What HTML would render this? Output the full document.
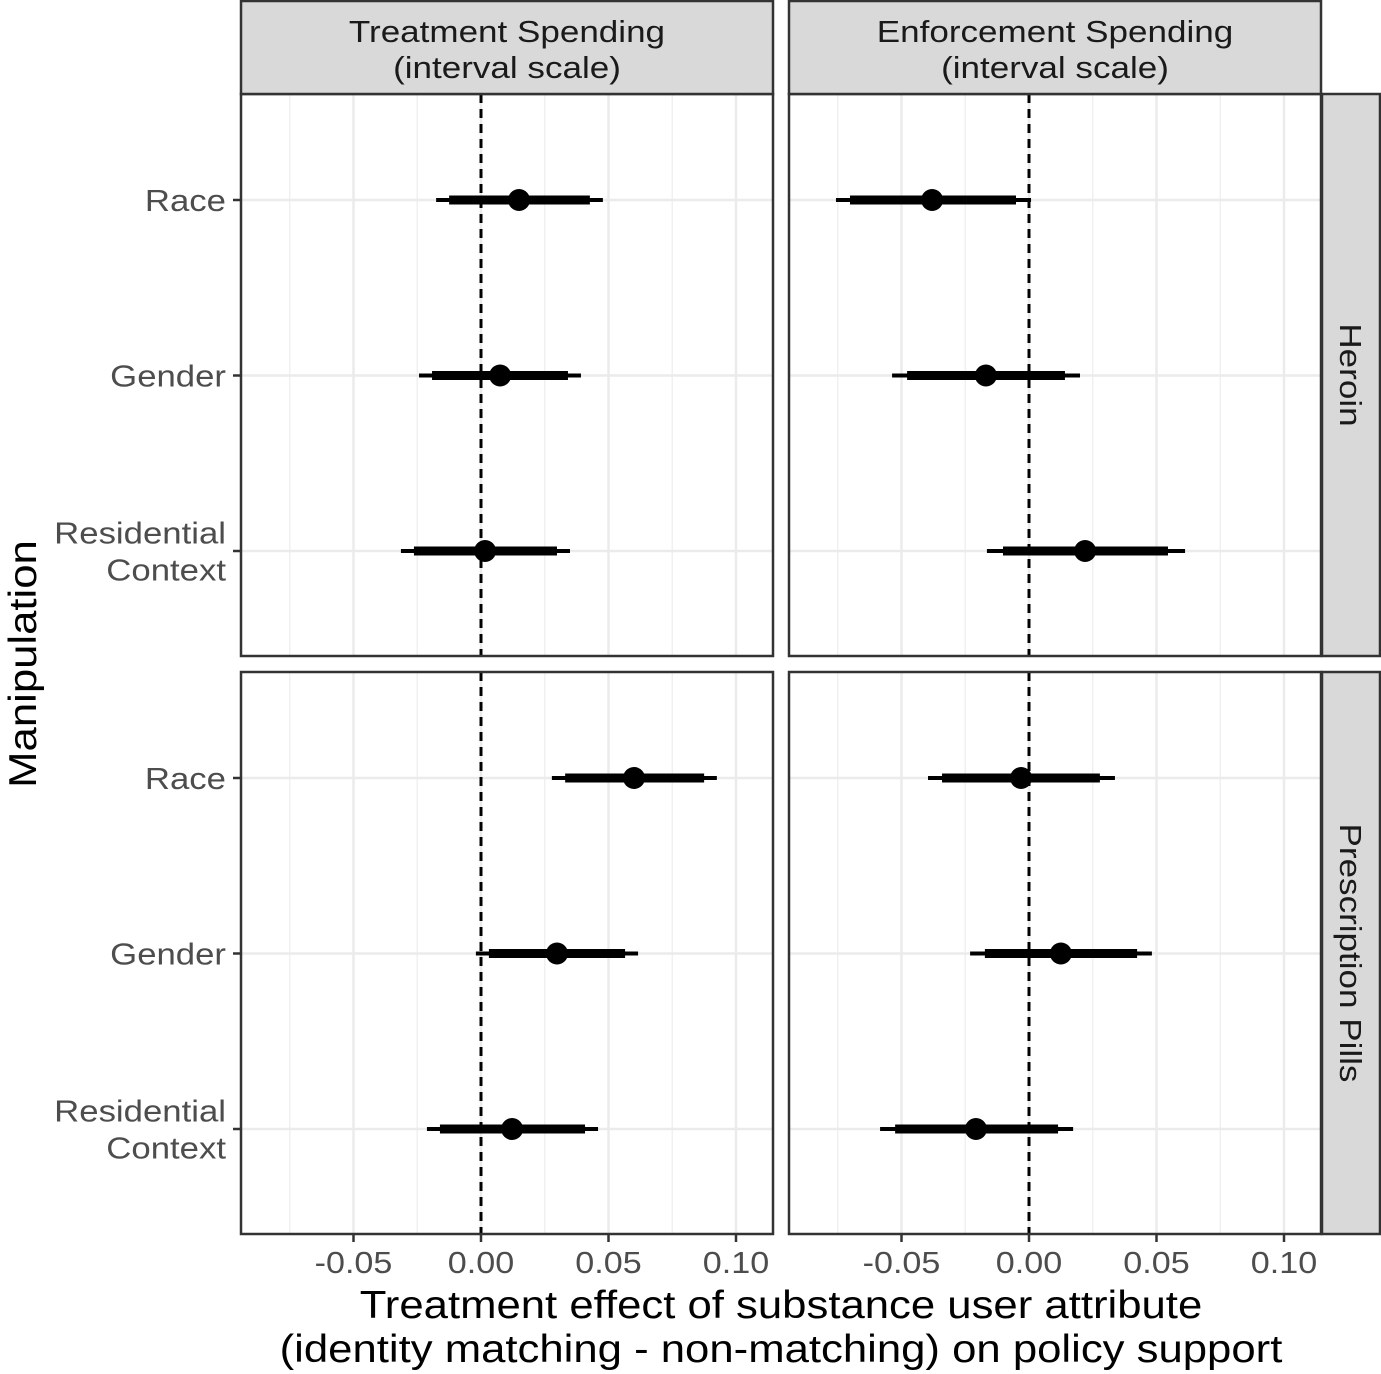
<!DOCTYPE html>
<html><head><meta charset="utf-8"><style>body{margin:0;background:#fff}svg{display:block;font-family:"Liberation Sans",Arial,sans-serif}</style></head>
<body>
<svg id="c" width="1381" height="1374" xmlns="http://www.w3.org/2000/svg"></svg>
<script>
const columns = ["Treatment Spending\n(interval scale)","Enforcement Spending\n(interval scale)"];
const rowsLbl = ["Heroin","Prescription Pills"];
const categories = ["Race","Gender","Residential\nContext"];
const xTicks = [-0.05,0,0.05,0.10];
const xTickLabels = ["-0.05","0.00","0.05","0.10"];
const xMinor = [-0.075,-0.025,0.025,0.075];
// [panelRow][panelCol][category]
const estimate = [[[0.0149,0.0075,0.0016],[-0.038,-0.0169,0.022]],[[0.060,0.0298,0.0122],[-0.0031,0.0125,-0.0208]]];
const innerLo = [[[-0.0125,-0.0192,-0.0263],[-0.0702,-0.0478,-0.0102]],[[0.033,0.0031,-0.0161],[-0.0341,-0.0173,-0.0525]]];
const innerHi = [[[0.0427,0.0341,0.0298],[-0.0051,0.0141,0.0545]],[[0.0875,0.0565,0.0408],[0.0278,0.0424,0.0114]]];
const outerLo = [[[-0.0176,-0.0243,-0.0314],[-0.0757,-0.0537,-0.0165]],[[0.0278,-0.002,-0.0212],[-0.0396,-0.0231,-0.0584]]];
const outerHi = [[[0.0478,0.0392,0.0349],[0.0008,0.02,0.0612]],[[0.0925,0.0616,0.0459],[0.0337,0.0482,0.0173]]];

const svg=document.getElementById('c');const NS="http://www.w3.org/2000/svg";
function mk(t,a,p){const e=document.createElementNS(NS,t);for(const k in a)e.setAttribute(k,a[k]);(p||svg).appendChild(e);return e;}
function txt(a,s,f){const e=mk('text',a);e.textContent=s;const L=e.getComputedTextLength();e.setAttribute('textLength',(L*(f||1.15)).toFixed(1));e.setAttribute('lengthAdjust','spacingAndGlyphs');return e;}
const PX=[241,789],PW=532,PY=[94,672],PH=562;
const x0=[481,1029],scale=2550;
function xs(c,v){return x0[c]+v*scale;}
function ys(r,i){return PY[r]+106+i*175.5;}
for(let r=0;r<2;r++)for(let c=0;c<2;c++){
  const g=mk('g',{});
  
  
  mk('rect',{x:PX[c],y:PY[r],width:PW,height:PH,fill:'#fff'},g);
  xMinor.forEach(v=>mk('line',{x1:xs(c,v),x2:xs(c,v),y1:PY[r],y2:PY[r]+PH,stroke:'#f0f0f0','stroke-width':1.5},g));
  xTicks.forEach(v=>mk('line',{x1:xs(c,v),x2:xs(c,v),y1:PY[r],y2:PY[r]+PH,stroke:'#ebebeb','stroke-width':2.5},g));
  categories.forEach((_,i)=>mk('line',{x1:PX[c],x2:PX[c]+PW,y1:ys(r,i),y2:ys(r,i),stroke:'#ebebeb','stroke-width':2.5},g));
  mk('line',{x1:xs(c,0),x2:xs(c,0),y1:PY[r],y2:PY[r]+PH,stroke:'#000','stroke-width':3,'stroke-dasharray':'9,6'},g);
  categories.forEach((_,i)=>{
    const y=ys(r,i);
    const a=mk('line',{x1:xs(c,outerLo[r][c][i]),x2:xs(c,outerHi[r][c][i]),y1:y,y2:y,stroke:'#000','stroke-width':4},g);
    
    const b=mk('line',{x1:xs(c,innerLo[r][c][i]),x2:xs(c,innerHi[r][c][i]),y1:y,y2:y,stroke:'#000','stroke-width':9},g);
    
    const p=mk('circle',{cx:xs(c,estimate[r][c][i]),cy:y,r:11,fill:'#000'},g);
    
  });
  mk('rect',{x:PX[c],y:PY[r],width:PW,height:PH,fill:'none',stroke:'#333','stroke-width':2.5},g);
}
columns.forEach((t,c)=>{
  const s=mk('rect',{x:PX[c],y:1,width:PW,height:93,fill:'#d9d9d9',stroke:'#333','stroke-width':2.5});
  
  t.split('\n').forEach((l,k)=>txt({x:PX[c]+PW/2,y:42+k*36,'text-anchor':'middle','font-size':31,fill:'#1a1a1a'},l,1.13));
});
rowsLbl.forEach((t,r)=>{
  const s=mk('rect',{x:1322,y:PY[r],width:58,height:PH,fill:'#d9d9d9',stroke:'#333','stroke-width':2.5});
  
  const cy=PY[r]+PH/2;txt({x:1340,y:cy,'text-anchor':'middle','font-size':31,fill:'#1a1a1a',transform:`rotate(90 1340 ${cy})`},t,1.13);
});
for(let r=0;r<2;r++)categories.forEach((t,i)=>{
  const y=ys(r,i);mk('line',{x1:233,x2:241,y1:y,y2:y,stroke:'#333','stroke-width':2.5});
  const ls=t.split('\n');ls.forEach((l,k)=>txt({x:226,y:y+11+(k-(ls.length-1)/2)*37,'text-anchor':'end','font-size':31,fill:'#4d4d4d'},l,1.12));
});
for(let c=0;c<2;c++)xTicks.forEach((v,k)=>{
  mk('line',{x1:xs(c,v),x2:xs(c,v),y1:1234,y2:1242,stroke:'#333','stroke-width':2.5});
  txt({x:xs(c,v),y:1273,'text-anchor':'middle','font-size':31,fill:'#4d4d4d'},xTickLabels[k],1.1);
});
const t1=txt({x:781,y:1318,'text-anchor':'middle','font-size':39,fill:'#000'},"Treatment effect of substance user attribute",1.12);

txt({x:781,y:1362,'text-anchor':'middle','font-size':39,fill:'#000'},"(identity matching - non-matching) on policy support",1.12);
const yt=txt({x:36,y:664,'text-anchor':'middle','font-size':39,fill:'#000',transform:'rotate(-90 36 664)'},"Manipulation",1.12);

</script>
</body></html>
